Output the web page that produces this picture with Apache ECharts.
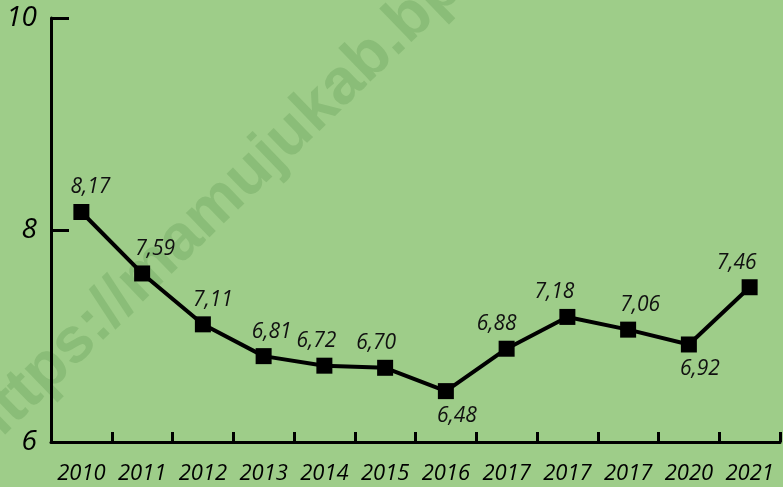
<!DOCTYPE html>
<html>
<head>
<meta charset="utf-8">
<script src="https://cdn.jsdelivr.net/npm/echarts@6/dist/echarts.min.js"></script>
<style>
  html, body { margin: 0; padding: 0; background: #9ecd89; }
  #chart { width: 783px; height: 487px; }
</style>
</head>
<body>
<div id="chart"></div>
<script>
var years = ['2010', '2011', '2012', '2013', '2014', '2015', '2016', '2017', '2017', '2017', '2020', '2021'];
var values = [8.17, 7.59, 7.11, 6.81, 6.72, 6.70, 6.48, 6.88, 7.18, 7.06, 6.92, 7.46];
var yTicks = [6, 8, 10];

// label placement per point (below the marker for the two dips)
var below = [6, 10];
var shiftX = [9, 13, 10, 8, -8, -9, 11, -10, -13, 12, 11, -13];

var fontFam = '"Open Sans", "Noto Sans", sans-serif';

var points = values.map(function (v, i) {
    return {
        value: v,
        label: {
            position: below.indexOf(i) >= 0 ? 'bottom' : 'top',
            offset: [shiftX[i], 0]
        }
    };
});

var chart = echarts.init(document.getElementById('chart'));
chart.setOption({
    backgroundColor: '#9ecd89',
    animation: false,
    graphic: [{
        type: 'text',
        x: -26,
        y: 440,
        rotation: 0.768,
        silent: true,
        z: 0,
        style: {
            text: 'https://mamujukab.bps.go.id',
            font: 'bold 64px "Liberation Sans", Arial, sans-serif',
            fill: 'rgba(70, 130, 60, 0.22)',
            textAlign: 'left',
            textVerticalAlign: 'middle'
        }
    }],
    grid: { left: 51, right: 3, top: 18, bottom: 45 },
    xAxis: {
        type: 'category',
        data: years,
        boundaryGap: true,
        axisLine: { lineStyle: { color: '#000', width: 3 } },
        axisTick: { show: true, inside: true, length: 10, lineStyle: { color: '#000', width: 3 } },
        axisLabel: {
            interval: 0,
            margin: 21,
            color: '#000',
            fontSize: 22,
            fontStyle: 'italic',
            fontFamily: fontFam
        },
        splitLine: { show: false }
    },
    yAxis: {
        type: 'value',
        min: yTicks[0],
        max: yTicks[yTicks.length - 1],
        interval: 2,
        axisLine: { show: true, lineStyle: { color: '#000', width: 3 } },
        axisTick: { show: true, inside: true, length: 18, lineStyle: { color: '#000', width: 3 } },
        axisLabel: {
            margin: 14,
            color: '#000',
            fontSize: 28,
            fontStyle: 'italic',
            fontFamily: fontFam
        },
        splitLine: { show: false }
    },
    series: [{
        type: 'line',
        data: points,
        symbol: 'rect',
        symbolSize: 16,
        z: 5,
        itemStyle: { color: '#000' },
        lineStyle: { color: '#000', width: 4 },
        label: {
            show: true,
            distance: 6,
            color: '#111',
            fontSize: 21,
            fontStyle: 'italic',
            fontFamily: fontFam,
            formatter: function (p) { return p.value.toFixed(2).replace('.', ','); }
        }
    }]
});
</script>
</body>
</html>
